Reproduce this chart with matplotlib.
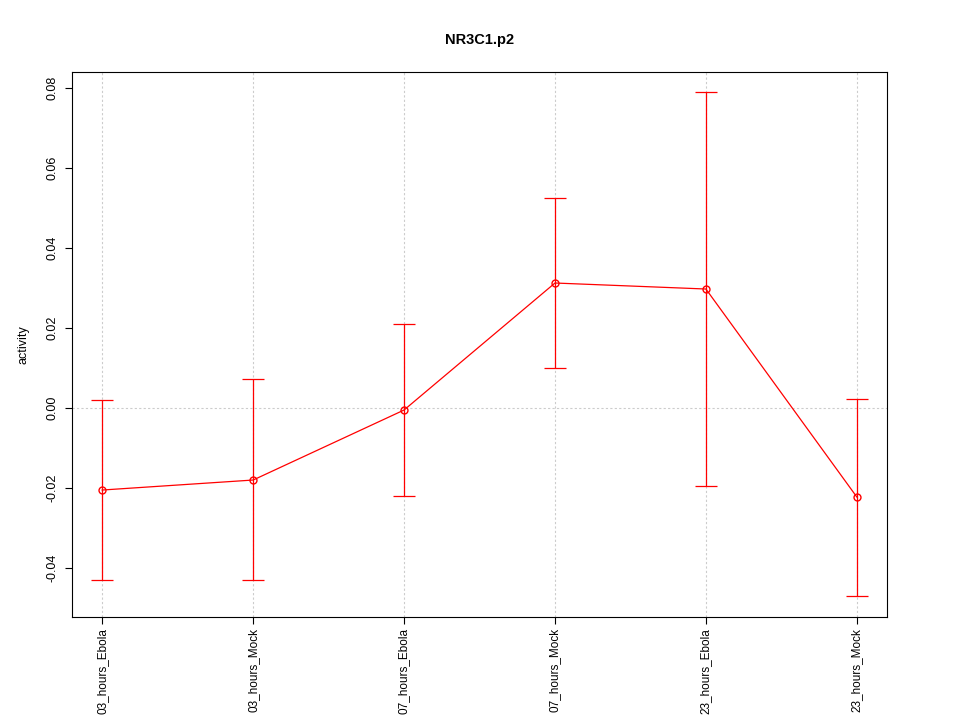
import numpy as np
import matplotlib
matplotlib.use('Agg')
import matplotlib.pyplot as plt

plt.rcParams['font.family'] = ['Liberation Sans', 'DejaVu Sans']

labels = ['03_hours_Ebola', '03_hours_Mock', '07_hours_Ebola',
          '07_hours_Mock', '23_hours_Ebola', '23_hours_Mock']
mean = [-0.0205, -0.018, -0.0005, 0.03125, 0.02975, -0.02225]
upper = [0.002, 0.00725, 0.021, 0.0525, 0.079, 0.00225]
lower = [-0.043, -0.043, -0.022, 0.010, -0.0195, -0.047]

x = np.arange(1, len(labels) + 1)
mean = np.array(mean)
yerr = [mean - np.array(lower), np.array(upper) - mean]

fig = plt.figure(figsize=(9.6, 7.2), dpi=100)
ax = fig.add_axes([0.075, 0.143, 0.849, 0.757])

# grid: verticals at each category, horizontal at zero
for xi in x:
    ax.axvline(xi, color='#cccccc', lw=0.8, ls=(0, (2, 2)), zorder=0)
ax.axhline(0, color='#cccccc', lw=0.8, ls=(0, (2, 2)), zorder=0)

ax.errorbar(x, mean, yerr=yerr, fmt='none', ecolor='red', elinewidth=0.9,
            capsize=8, capthick=0.9)
ax.plot(x, mean, color='red', lw=0.9, marker='o', markersize=5,
        markerfacecolor='none', markeredgecolor='red')

ax.set_xlim(0.8, 6.2)
ax.set_ylim(-0.05225, 0.084)
ax.set_xticks(x)
ax.set_xticklabels(labels, rotation=90, fontsize=8.5)
ax.set_yticks([-0.04, -0.02, 0.0, 0.02, 0.04, 0.06, 0.08])
ax.set_yticklabels(['-0.04', '-0.02', '0.00', '0.02', '0.04', '0.06', '0.08'],
                   rotation=90, va='center', fontsize=9)
ax.tick_params(axis='y', length=5, pad=5)
ax.tick_params(axis='x', length=5, pad=3)
ax.set_ylabel('activity', fontsize=9, labelpad=12)
ax.set_title('NR3C1.p2', fontsize=10.5, fontweight='bold', pad=20)
for s in ax.spines.values():
    s.set_linewidth(0.8)

fig.savefig('out.png', dpi=100)
